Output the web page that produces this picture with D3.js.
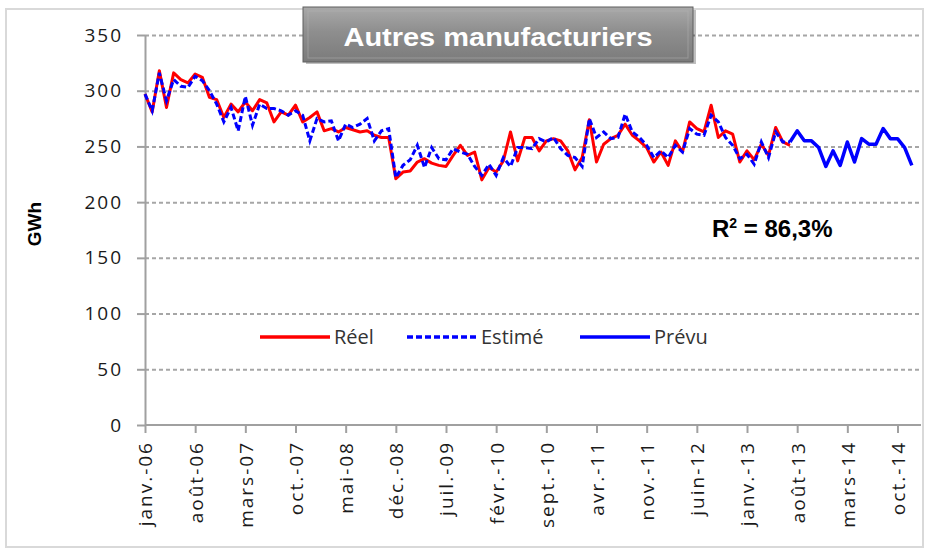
<!DOCTYPE html>
<html>
<head>
<meta charset="utf-8">
<script src="https://cdn.jsdelivr.net/npm/d3@7"></script>
<style>
	body { margin: 0; background: #fff; }
</style>
</head>
<body>
<div id="chart"></div>
<script>
// Data (GWh, monthly from janv. 2006)
const reel = [
	297, 281, 318, 285, 316, 310, 307, 315, 312, 294, 292, 276, 288, 281, 290, 282, 292, 289,
	272, 281, 278, 287, 272, 276, 281, 264, 266, 263, 267, 265, 263, 264, 260, 258, 258, 221,
	227, 228, 236, 239, 235, 233, 232, 242, 251, 242, 245, 220, 231, 227, 237, 263, 237, 258,
	258, 246, 255, 257, 255, 246, 229, 240, 274, 236, 252, 257, 260, 270, 260, 255, 249, 236,
	245, 233, 255, 245, 272, 266, 263, 287, 258, 264, 261, 236, 246, 238, 252, 242, 267, 254, 251,
]
const estime = [
	297, 282, 316, 291, 310, 304, 303, 313, 309, 300, 288, 272, 285, 264, 295, 269, 288, 284,
	284, 282, 278, 282, 278, 255, 275, 272, 273, 255, 270, 267, 270, 275, 255, 264, 266, 222,
	233, 238, 251, 231, 249, 239, 238, 248, 245, 243, 232, 224, 234, 224, 240, 232, 249, 249,
	248, 257, 254, 258, 248, 242, 240, 232, 275, 258, 263, 257, 258, 279, 263, 258, 251, 240,
	246, 240, 251, 245, 266, 261, 260, 278, 272, 258, 251, 239, 243, 234, 254, 240, 263, 254, 254,
]
// Prévu starts at month index 90 (juil. 2013)
const prevuStart = 90
const prevu = [254, 264, 255, 255, 249, 232, 246, 233, 254, 236, 257, 252, 252, 266, 257, 257, 249, 233]

const tickLabels = ['janv.-06', 'août-06', 'mars-07', 'oct.-07', 'mai-08', 'déc.-08', 'juil.-09', 'févr.-10',
	'sept.-10', 'avr.-11', 'nov.-11', 'juin-12', 'janv.-13', 'août-13', 'mars-14', 'oct.-14']
const yTicks = [0, 50, 100, 150, 200, 250, 300, 350]
const legendItems = [
	{name: 'Réel', color: '#ff0000', dash: null},
	{name: 'Estimé', color: '#0000ff', dash: '6,3'},
	{name: 'Prévu', color: '#0000ff', dash: null},
]

const colors = {
	red: '#ff0000',
	blue: '#0000ff',
	grid: '#a6a6a6',
	axis: '#a0a0a0',
	text: '#1a1a1a',
}
const width = 928, height = 550
const labelFont = '"Open Sans", "DejaVu Sans", sans-serif'

const svg = d3.select('#chart').append('svg')
	.attr('width', width).attr('height', height)

// outer frame
svg.append('rect')
	.attr('x', 6).attr('y', 9).attr('width', 917).attr('height', 538)
	.attr('fill', '#fff').attr('stroke', '#d9d9d9').attr('stroke-width', 2)

const x = d3.scaleLinear().domain([0, 108]).range([145, 919])
const y = d3.scaleLinear().domain([0, 350]).range([425, 35])

// gridlines
svg.append('g')
	.attr('transform', `translate(${x(0)},0)`)
	.call(d3.axisLeft(y).tickValues(yTicks.slice(1)).tickSize(-(x(108) - x(0) + 2)).tickFormat(''))
	.call(g => g.select('.domain').remove())
	.call(g => g.selectAll('line')
		.attr('stroke', colors.grid).attr('stroke-width', 2).attr('stroke-dasharray', '4,3'))

// y axis
svg.append('g')
	.attr('transform', `translate(${x(0)},0)`)
	.call(d3.axisLeft(y).tickValues(yTicks).tickSize(8).tickPadding(14).tickSizeOuter(0))
	.call(g => g.select('.domain').attr('stroke', colors.axis).attr('stroke-width', 2))
	.call(g => g.selectAll('line').attr('stroke', colors.axis).attr('stroke-width', 2))
	.call(g => g.selectAll('text')
		.attr('font-family', labelFont).attr('font-size', 19).attr('letter-spacing', 2)
		.attr('fill', colors.text))

// x axis
const tickIdx = tickLabels.map((d, k) => k * 7)
svg.append('g')
	.attr('transform', `translate(0,${y(0)})`)
	.call(d3.axisBottom(x).tickValues(tickIdx).tickSize(8).tickSizeOuter(0).tickFormat((d, k) => tickLabels[k]))
	.call(g => g.select('.domain').attr('stroke', colors.axis).attr('stroke-width', 2).attr('d', `M${x(0)},0H${x(108) + 2}`))
	.call(g => g.selectAll('line').attr('stroke', colors.axis).attr('stroke-width', 2))
	.call(g => g.selectAll('text')
		.attr('font-family', labelFont).attr('font-size', 19).attr('letter-spacing', 2)
		.attr('fill', colors.text)
		.attr('text-anchor', 'end')
		.attr('transform', 'rotate(-90)')
		.attr('x', -16).attr('y', 0).attr('dy', '0.36em'))

// y title
svg.append('text')
	.attr('transform', 'translate(41,224) rotate(-90)')
	.attr('text-anchor', 'middle')
	.attr('font-family', '"Liberation Sans", Arial, sans-serif')
	.attr('font-weight', 'bold').attr('font-size', 19)
	.attr('fill', '#000')
	.text('GWh')

// series
const line = d3.line().x(d => x(d.i)).y(d => y(d.v))
const reelData = reel.map((v, i) => ({i, v}))
const estimeData = estime.map((v, i) => ({i, v}))
const prevuData = prevu.map((v, k) => ({i: prevuStart + k, v}))

svg.append('path').attr('d', line(reelData))
	.attr('fill', 'none').attr('stroke', colors.red).attr('stroke-width', 3).attr('stroke-linejoin', 'round')
svg.append('path').attr('d', line(estimeData))
	.attr('fill', 'none').attr('stroke', colors.blue).attr('stroke-width', 3).attr('stroke-dasharray', '6,3')
svg.append('path').attr('d', line(prevuData))
	.attr('fill', 'none').attr('stroke', colors.blue).attr('stroke-width', 3.5).attr('stroke-linejoin', 'round')

// legend
const legendX = [260, 407, 580]
const legend = svg.append('g').selectAll('g')
	.data(legendItems).enter()
	.append('g')
	.attr('transform', (d, k) => `translate(${legendX[k]},337)`)
legend.append('line')
	.attr('x1', 0).attr('x2', 70)
	.attr('stroke', d => d.color).attr('stroke-width', 3.5)
	.attr('stroke-dasharray', d => d.dash)
legend.append('text')
	.attr('x', 74).attr('dy', '0.35em')
	.attr('font-family', labelFont).attr('font-size', 20)
	.attr('fill', '#333')
	.text(d => d.name)

// R²
const r2 = svg.append('text')
	.attr('x', 712).attr('y', 237)
	.attr('font-family', '"Liberation Sans", Arial, sans-serif')
	.attr('font-weight', 'bold').attr('font-size', 24)
	.attr('fill', '#000')
r2.append('tspan').text('R')
r2.append('tspan').attr('dy', -9).attr('font-size', 14).text('2')
r2.append('tspan').attr('dy', 9).text(' = 86,3%')

// title box
const defs = svg.append('defs')
const grad = defs.append('linearGradient').attr('id', 'titleGrad')
	.attr('x1', 0).attr('y1', 0).attr('x2', 0).attr('y2', 1)
grad.append('stop').attr('offset', '0%').attr('stop-color', '#a9a9a9')
grad.append('stop').attr('offset', '45%').attr('stop-color', '#8e8e8e')
grad.append('stop').attr('offset', '100%').attr('stop-color', '#7b7b7b')

svg.append('rect')
	.attr('x', 306).attr('y', 10).attr('width', 390).attr('height', 54)
	.attr('fill', '#000').attr('opacity', 0.25)
svg.append('rect')
	.attr('x', 303).attr('y', 7).attr('width', 390).attr('height', 55)
	.attr('fill', 'url(#titleGrad)').attr('stroke', '#5f5f5f').attr('stroke-width', 1)
svg.append('rect')
	.attr('x', 308).attr('y', 11).attr('width', 380).attr('height', 47)
	.attr('fill', 'none').attr('stroke', '#b5b5b5').attr('stroke-opacity', 0.5).attr('stroke-width', 1)
svg.append('text')
	.attr('x', 498).attr('y', 46)
	.attr('text-anchor', 'middle')
	.attr('font-family', '"Liberation Sans", Arial, sans-serif')
	.attr('font-weight', 'bold').attr('font-size', 26)
	.attr('textLength', 309).attr('lengthAdjust', 'spacingAndGlyphs')
	.attr('fill', '#fff')
	.text('Autres manufacturiers')
</script>
</body>
</html>
